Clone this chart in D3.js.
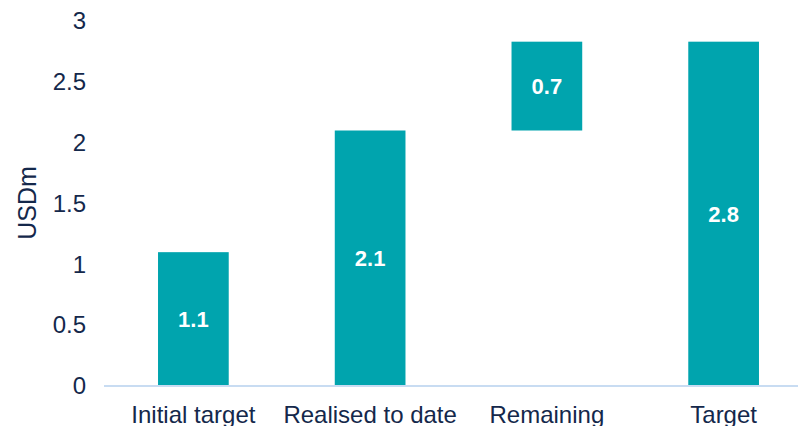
<!DOCTYPE html>
<html>
<head>
<meta charset="utf-8">
<script src="https://cdn.jsdelivr.net/npm/d3@7"></script>
<style>
  body { margin: 0; background: #fff; }
  svg { display: block; font-family: "Liberation Sans", Arial, sans-serif; }
</style>
</head>
<body>
<svg id="chart" width="798" height="426"></svg>
<script>
var categories = ["Initial target", "Realised to date", "Remaining", "Target"];
var barBase = [0, 0, 2.1, 0];
var barValue = [1.1, 2.1, 0.73, 2.83];
var yTicks = [0, 0.5, 1, 1.5, 2, 2.5, 3];
var yTitle = "USDm";

var teal = "#00a4ae", ink = "#14284b";

var svg = d3.select("#chart");

var x = d3.scaleBand()
    .domain(categories)
    .range([105, 812])
    .paddingInner(0.6)
    .paddingOuter(0.3);

var y = d3.scaleLinear()
    .domain([0, 3])
    .range([386, 21]);

var data = categories.map(function(c, i){
    return {cat: c, base: barBase[i], value: barValue[i]};
});

// y tick labels (no axis line, no tick marks)
var yAxis = svg.append("g")
    .attr("transform", "translate(86,0)")
    .call(d3.axisLeft(y).tickValues(yTicks).tickSize(0).tickPadding(0).tickFormat(d3.format("")));
yAxis.select(".domain").remove();
yAxis.selectAll("text")
    .attr("fill", ink)
    .style("font-size", "24px");

svg.append("text")
    .attr("transform", "translate(36,203) rotate(-90)")
    .attr("text-anchor", "middle")
    .attr("fill", ink)
    .style("font-size", "25px")
    .text(yTitle);

// bars
svg.selectAll("rect.bar")
    .data(data)
    .enter().append("rect")
    .attr("class", "bar")
    .attr("x", function(d){ return x(d.cat); })
    .attr("width", x.bandwidth())
    .attr("y", function(d){ return y(d.base + d.value); })
    .attr("height", function(d){ return y(d.base) - y(d.base + d.value); })
    .attr("fill", teal);

// value labels
svg.selectAll("text.val")
    .data(data)
    .enter().append("text")
    .attr("class", "val")
    .attr("x", function(d){ return x(d.cat) + x.bandwidth() / 2; })
    .attr("y", function(d){ return (y(d.base) + y(d.base + d.value)) / 2; })
    .attr("dy", "0.36em")
    .attr("text-anchor", "middle")
    .attr("fill", "#fff")
    .style("font-size", "22px")
    .style("font-weight", "bold")
    .text(function(d){ return d3.format(".1f")(d.value); });

// x axis
var xAxis = svg.append("g")
    .attr("transform", "translate(0," + y(0) + ")")
    .call(d3.axisBottom(x).tickSize(0).tickPadding(0));
xAxis.select(".domain")
    .attr("stroke", "#c8dcf2")
    .attr("stroke-width", 2)
    .attr("d", "M104,0H798");
xAxis.selectAll("text")
    .attr("fill", ink)
    .attr("dy", null)
    .attr("y", 37)
    .style("font-size", "24px");
</script>
</body>
</html>
